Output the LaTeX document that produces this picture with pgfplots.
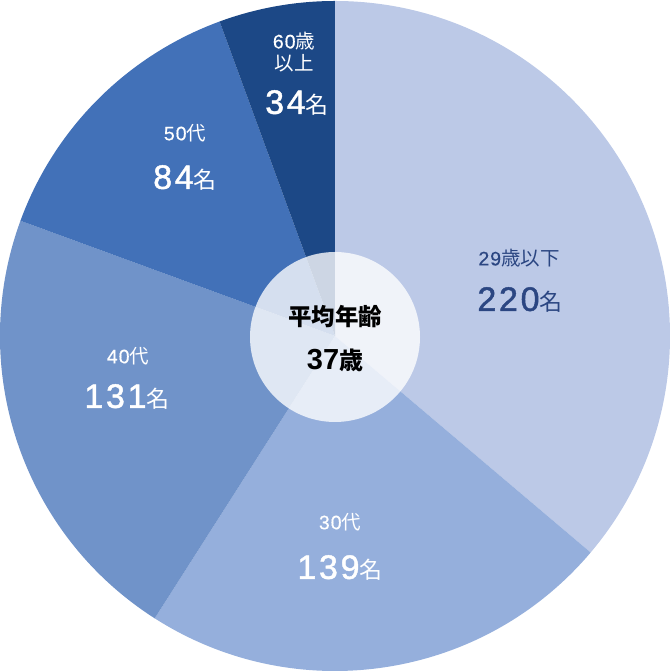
\documentclass[border=0pt]{standalone}
\usepackage{pgfplots}
\pgfplotsset{compat=1.18}
\usepackage{pgfplotstable}
\usepackage{fontspec}
\setmainfont{Liberation Sans}
\newfontfamily\jp{Noto Sans CJK JP}
\newfontfamily\numfont{Liberation Sans}[LetterSpace=8, FakeBold=1.3]
\newfontfamily\catfont{Liberation Sans}[LetterSpace=5, FakeBold=0.4]

\definecolor{c0}{HTML}{BCC9E7}
\definecolor{c1}{HTML}{95AFDC}
\definecolor{c2}{HTML}{7093C9}
\definecolor{c3}{HTML}{4271B8}
\definecolor{c4}{HTML}{1C4886}
\definecolor{navy}{HTML}{2B4682}

% 29歳以下, 30代, 40代, 50代, 60歳以上
\pgfplotstableread{
grp n
0 220
1 139
2 131
3 84
4 34
}\agetable

% slice angles, clockwise from the top
\def\total{0}
\foreach \i in {0,...,4}{%
  \pgfplotstablegetelem{\i}{n}\of\agetable
  \pgfmathsetmacro\t{\total+\pgfplotsretval}%
  \xdef\total{\t}}
\def\run{90}
\foreach \i in {0,...,4}{%
  \pgfplotstablegetelem{\i}{n}\of\agetable
  \pgfmathsetmacro\e{\run-360*(\pgfplotsretval/\total)}%
  \expandafter\xdef\csname sa\i\endcsname{\run}%
  \expandafter\xdef\csname ea\i\endcsname{\e}%
  \xdef\run{\e}}

\newcommand\cat[2]{{\fontsize{19.5bp}{22bp}\selectfont{\catfont #1}{\jp #2}}}
\newcommand\cnt[1]{{\fontsize{34bp}{36bp}\selectfont\numfont #1}{\jp\fontsize{23bp}{24bp}\selectfont 名}}

\begin{document}
\begin{tikzpicture}
\begin{axis}[hide axis, scale only axis, x=1bp, y=1bp,
  xmin=0, xmax=670, ymin=0, ymax=672, clip=false]
\coordinate (LL) at (axis cs:0,0);
\coordinate (UR) at (axis cs:670,672);
\pgfplotsinvokeforeach{0,...,4}{
  \fill[c#1] (axis cs:335,336) -- ++(\csname sa#1\endcsname:335bp)
    arc[start angle=\csname sa#1\endcsname, end angle=\csname ea#1\endcsname, radius=335bp] -- cycle;
}
\fill[white, opacity=0.78] (axis cs:335,335) circle[radius=85bp];

\node[text=navy] at (axis cs:519,414) {\cat{29}{歳以下}};
\node[text=navy] at (axis cs:520,372) {\cnt{220}};
\node[text=white] at (axis cs:340,150) {\cat{30}{代}};
\node[text=white] at (axis cs:340,104) {\cnt{139}};
\node[text=white] at (axis cs:128,316) {\cat{40}{代}};
\node[text=white] at (axis cs:127,275) {\cnt{131}};
\node[text=white] at (axis cs:185,539) {\cat{50}{代}};
\node[text=white] at (axis cs:185,494) {\cnt{84}};
\node[text=white] at (axis cs:294,631) {\cat{60}{歳}};
\node[text=white] at (axis cs:294,609) {\cat{}{以上}};
\node[text=white] at (axis cs:297,569) {\cnt{34}};

\node[text=black] at (axis cs:335,355) {\jp\bfseries\fontsize{23.5bp}{26bp}\selectfont 平均年齢};
\node[text=black] at (axis cs:335,312) {{\bfseries\fontsize{29bp}{30bp}\selectfont 37}{\jp\bfseries\fontsize{24bp}{26bp}\selectfont 歳}};
\end{axis}
\pgfresetboundingbox
\useasboundingbox (LL) rectangle (UR);
\end{tikzpicture}
\end{document}
